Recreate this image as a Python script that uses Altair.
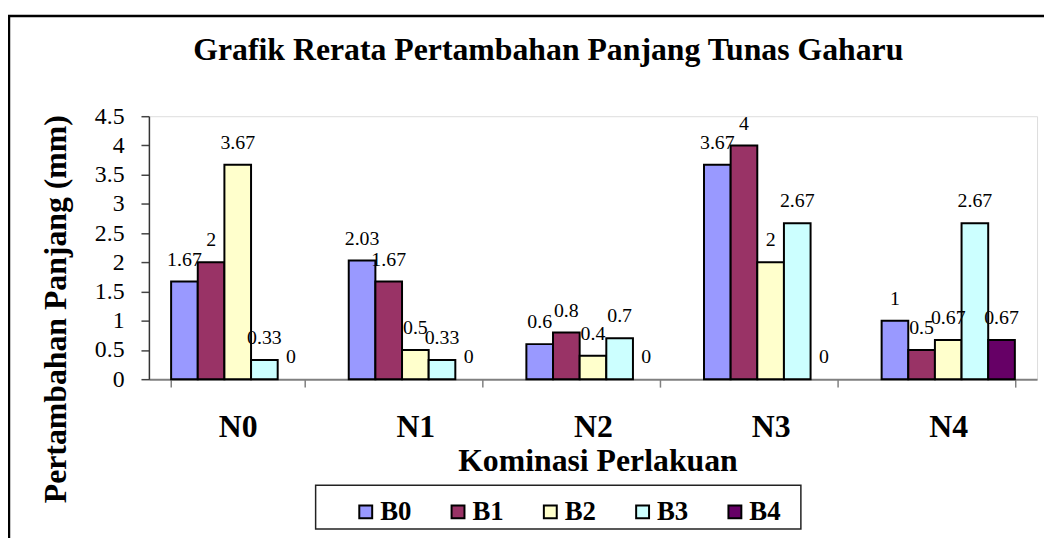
import altair as alt
import pandas as pd

categories = ["N0", "N1", "N2", "N3", "N4"]
series = ["B0", "B1", "B2", "B3", "B4"]
b0 = [1.67, 2.03, 0.6, 3.67, 1]
b1 = [2, 1.67, 0.8, 4, 0.5]
b2 = [3.67, 0.5, 0.4, 2, 0.67]
b3 = [0.33, 0.33, 0.7, 2.67, 2.67]
b4 = [0, 0, 0, 0, 0.67]
colors = ["#9999FF", "#993366", "#FFFFCC", "#CCFFFF", "#660066"]
y_ticks = [0, 0.5, 1, 1.5, 2, 2.5, 3, 3.5, 4, 4.5]

series_values = dict(zip(series, [b0, b1, b2, b3, b4]))
rows = []
for s in series:
    for c, v in zip(categories, series_values[s]):
        rows.append({"cat": c, "ser": s, "value": v})
df = pd.DataFrame(rows)

SERIF = "Times New Roman, Liberation Serif, serif"
W, H = 895, 265

x_enc = alt.X(
    "cat:N",
    sort=categories,
    scale=alt.Scale(paddingInner=0.25, paddingOuter=0.125),
    axis=alt.Axis(
        title="Kominasi Perlakuan",
        labelAngle=0,
        labelFont=SERIF,
        labelFontSize=32,
        labelFontWeight="bold",
        labelColor="black",
        labelBaseline="alphabetic",
        labelPadding=50,
        tickBand="extent",
        tickSize=8,
        tickColor="#808080",
        tickWidth=1.5,
        domainColor="#808080",
        domainWidth=2,
        titleFont=SERIF,
        titleFontSize=32,
        titleFontWeight="bold",
        titleColor="black",
        titleBaseline="alphabetic",
        titleX=452,
        titleY=92,
    ),
)
xoff_enc = alt.XOffset("ser:N", sort=series, scale=alt.Scale(paddingInner=0, paddingOuter=0))
y_enc = alt.Y(
    "value:Q",
    scale=alt.Scale(domain=[0, 4.5], nice=False, zero=True),
    axis=alt.Axis(
        values=y_ticks,
        tickCount=10,
        format="~g",
        grid=False,
        labelOverlap=False,
        labelFlush=False,
        labelFont=SERIF,
        labelFontSize=24,
        labelColor="black",
        labelPadding=17,
        tickSize=8,
        tickColor="#444444",
        tickWidth=1.5,
        domainColor="#333333",
        domainWidth=1.5,
        title="Pertambahan Panjang (mm)",
        titleFont=SERIF,
        titleFontSize=32,
        titleFontWeight="bold",
        titleColor="black",
        titleAngle=270,
        titleAlign="center",
        titleBaseline="middle",
        titleX=-94,
        titleY=194,
    ),
)
color_enc = alt.Color(
    "ser:N",
    sort=series,
    scale=alt.Scale(domain=series, range=colors),
    legend=alt.Legend(
        title=None,
        orient="none",
        legendX=205,
        legendY=385,
        direction="horizontal",
        symbolType="square",
        symbolSize=169,
        symbolStrokeColor="black",
        symbolStrokeWidth=2,
        labelFont=SERIF,
        labelFontSize=27,
        labelFontWeight="bold",
        labelColor="black",
        labelOffset=1,
        columnPadding=33,
        padding=0,
    ),
)

base = alt.Chart(df)

bars = base.transform_filter("datum.value > 0").mark_bar(
    stroke="black", strokeWidth=2
).encode(x=x_enc, xOffset=xoff_enc, y=y_enc, color=color_enc)

labels = base.mark_text(
    dy=-22, baseline="middle", font=SERIF, fontSize=20, color="black"
).encode(
    x=x_enc,
    xOffset=xoff_enc,
    y=y_enc,
    text=alt.Text("value:Q", format="~g"),
)

deco = pd.DataFrame({"k": [0]})
frame = alt.Chart(deco).mark_rect(
    fill="white", fillOpacity=0, stroke="black", strokeWidth=2.5
).encode(
    x=alt.value(-141), x2=alt.value(920), y=alt.value(-101), y2=alt.value(440)
)
legend_box = alt.Chart(deco).mark_rect(
    fill="white", fillOpacity=0, stroke="#222222", strokeWidth=1.5
).encode(
    x=alt.value(168), x2=alt.value(657), y=alt.value(372), y2=alt.value(416)
)

chart = alt.layer(frame, legend_box, bars, labels).properties(
    width=W,
    height=H,
    autosize=alt.AutoSizeParams(type="none"),
    padding={"left": 142, "top": 107, "right": 7, "bottom": 158},
    title=alt.TitleParams(
        text="Grafik Rerata Pertambahan Panjang Tunas Gaharu",
        font=SERIF,
        fontSize=32,
        fontWeight="bold",
        color="black",
        anchor="middle",
        frame="group",
        baseline="alphabetic",
        offset=-78,
        dx=-45,
    ),
).configure_view(stroke=None).configure(background="white")

chart.save("out.html", embed_options={"renderer": "svg", "actions": False})
